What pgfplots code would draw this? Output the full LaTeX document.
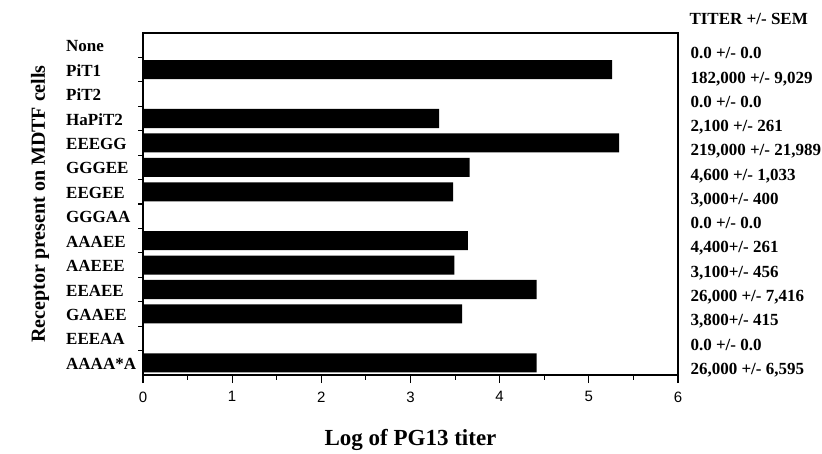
\documentclass[border=0pt]{standalone}
\usepackage{pgfplots}
\pgfplotsset{compat=1.18}
\usepackage{fontspec}
\setmainfont{Liberation Serif}
\newfontfamily\tickfont{Liberation Sans}
\newcommand\lab{\fontsize{17}{17}\selectfont\bfseries}

% log10 of PG13 titer, None at top (pos 13) to AAAA*A at bottom (pos 0)
\pgfplotstableread{
pos titer
13 0
12 5.260
11 0
10 3.322
9  5.340
8  3.663
7  3.477
6  0
5  3.643
4  3.491
3  4.415
2  3.580
1  0
0  4.415
}\titers

\begin{document}
\begin{tikzpicture}
\useasboundingbox (0,0) rectangle (822pt,453pt);
\begin{axis}[
    at={(143pt,78pt)}, anchor=south west,
    width=535pt, height=342pt, scale only axis,
    xmin=0, xmax=6, ymin=-0.5, ymax=13.5,
    xbar, bar width=0.78,
    xtick={0,...,6}, minor x tick num=1,
    ytick={0,...,13},
    yticklabels={AAAA*A,EEEAA,GAAEE,EEAEE,AAEEE,AAAEE,GGGAA,EEGEE,GGGEE,EEEGG,HaPiT2,PiT2,PiT1,None},
    minor ytick={0.5,1.5,...,12.5},
    major y tick style={draw=none},
    tick align=outside, xtick pos=bottom, ytick pos=left,
    major tick length=8pt, minor tick length=4.5pt,
    every tick/.append style={line width=1.1pt, black},
    axis line style={line width=1.1pt},
    /pgf/number format/assume math mode=true,
    xticklabel style={font=\fontsize{15}{15}\selectfont\tickfont, yshift=-5pt},
    yticklabel style={font=\lab, anchor=west, inner sep=0pt, xshift=-69pt, yshift=-1pt},
    xlabel={Log of PG13 titer},
    xlabel style={font=\fontsize{23}{23}\selectfont\bfseries, at={(axis description cs:0.5,-0.2047)}, anchor=base},
    ylabel={Receptor present on MDTF cells},
    ylabel style={font=\fontsize{20}{20}\selectfont\bfseries, at={(axis description cs:-0.1832,0.5)}, anchor=base},
]
\addplot[fill=black, draw=none] table[x=titer, y=pos] {\titers};
\end{axis}
\node[anchor=base west, font=\lab] at (686pt,428pt) {TITER +/- SEM};
\foreach \txt [count=\i from 0] in {
    {0.0 +/- 0.0}, {182,000 +/- 9,029}, {0.0 +/- 0.0}, {2,100 +/- 261},
    {219,000 +/- 21,989}, {4,600 +/- 1,033}, {3,000+/- 400}, {0.0 +/- 0.0},
    {4,400+/- 261}, {3,100+/- 456}, {26,000 +/- 7,416}, {3,800+/- 415},
    {0.0 +/- 0.0}, {26,000 +/- 6,595}} {
  \node[anchor=base west, font=\lab] at (687pt,{394.2pt-\i*24.27pt}) {\txt};
}
\end{tikzpicture}
\end{document}
